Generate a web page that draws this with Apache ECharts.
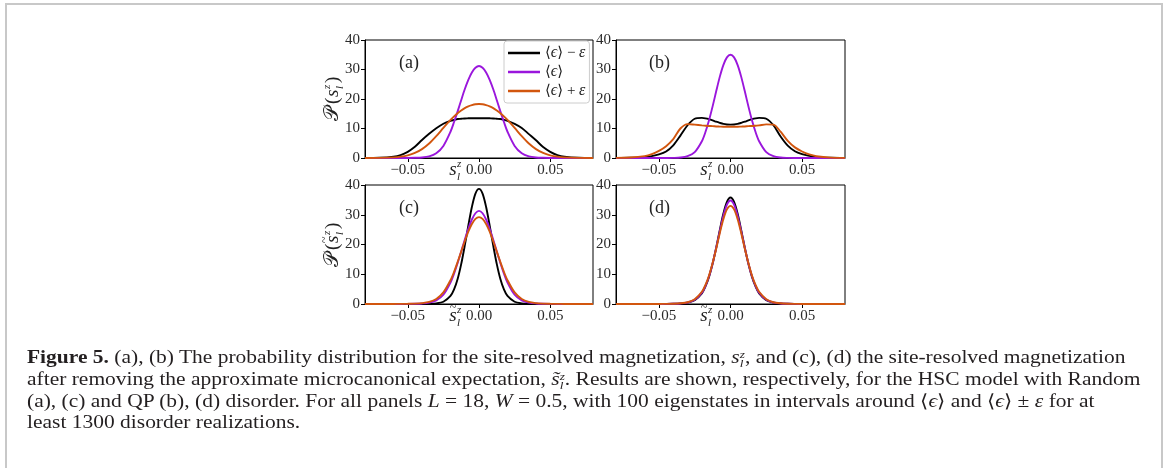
<!DOCTYPE html>
<html>
<head>
<meta charset="utf-8">
<script src="https://cdn.jsdelivr.net/npm/echarts@6/dist/echarts.min.js"></script>
<style>
  html, body { margin:0; padding:0; background:#fff; }
  #wrap { position:relative; width:1165px; height:468px; overflow:hidden; background:#fff; }
  #frame { position:absolute; left:5px; top:3px; width:1158px; height:500px; box-sizing:border-box;
           border:2px solid #c8c8c8; border-bottom:none; }
  #chart { position:absolute; left:0; top:0; width:1165px; height:468px; }
  #caption { position:absolute; left:27px; top:347px; font-family:"Liberation Serif", serif; font-size:18.3px;
             color:#231f20; line-height:21px; transform:scaleX(1.175); transform-origin:0 0; }
  #caption div { white-space:nowrap; }
  .ss { display:inline-block; vertical-align:-0.38em; font-size:0.62em; line-height:0.85em; font-style:italic; text-align:left; }
  i { font-style:italic; }
</style>
</head>
<body>
<div id="wrap">
  <div id="frame"></div>
  <div id="chart"></div>
  <div id="caption">
    <div><b>Figure 5.</b> (a), (b) The probability distribution for the site-resolved magnetization, <i>s</i><span class="ss">z<br>l</span>, and (c), (d) the site-resolved magnetization</div>
    <div>after removing the approximate microcanonical expectation, <i>s&#771;</i><span class="ss">z<br>l</span>. Results are shown, respectively, for the HSC model with Random</div>
    <div>(a), (c) and QP (b), (d) disorder. For all panels <i>L</i> = 18, <i>W</i> = 0.5, with 100 eigenstates in intervals around ⟨<i>ϵ</i>⟩ and ⟨<i>ϵ</i>⟩ ± <i>ε</i> for at</div>
    <div>least 1300 disorder realizations.</div>
  </div>
</div>
<script>
// ---- data ----
const X = [-0.08,-0.07,-0.06,-0.055,-0.05,-0.045,-0.04,-0.035,-0.03,-0.025,-0.02,-0.0175,-0.015,-0.0125,-0.01,-0.0075,-0.005,-0.0025,
           0,
           0.0025,0.005,0.0075,0.01,0.0125,0.015,0.0175,0.02,0.025,0.03,0.035,0.04,0.045,0.05,0.055,0.06,0.07,0.08];

const SERIES_NAMES = ['⟨ϵ⟩ − ε', '⟨ϵ⟩', '⟨ϵ⟩ + ε'];
const COLORS = ['#000000', '#9a16dc', '#d2560e'];

// panel (a): Random disorder, s_l^z
const A_BLACK  = [0.02,0.08,0.45,1.0,2.1,3.8,6.1,8.2,10.1,11.6,12.6,12.9,13.2,13.3,13.4,13.45,13.5,13.5,
                  13.5,
                  13.5,13.5,13.45,13.4,13.3,13.2,12.95,12.6,11.6,10.2,8.1,6.0,3.7,2.1,1.0,0.45,0.08,0.02];
const A_PURPLE = [0,0,0,0.01,0.02,0.06,0.17,0.55,1.6,4.1,8.9,12.2,15.8,19.6,23.3,26.5,29.0,30.6,
                  31.2,
                  30.6,29.0,26.5,23.3,19.6,15.8,12.2,8.9,4.1,1.6,0.55,0.17,0.06,0.02,0.01,0,0,0];
const A_ORANGE = [0.01,0.05,0.22,0.45,0.9,1.7,3.0,4.9,7.4,10.2,12.9,14.1,15.2,16.1,16.9,17.5,17.9,18.2,
                  18.3,
                  18.2,17.9,17.5,16.9,16.1,15.2,14.1,12.9,10.2,7.4,4.9,3.0,1.7,0.9,0.45,0.22,0.05,0.01];

// panel (b): QP disorder, s_l^z
const B_BLACK  = [0.01,0.06,0.3,0.65,1.2,2.2,4.3,7.6,11.1,13.3,13.6,13.45,13.15,12.75,12.3,11.9,11.55,11.35,
                  11.3,
                  11.35,11.55,11.9,12.3,12.75,13.15,13.45,13.6,13.3,11.1,7.3,4.2,2.3,1.3,0.7,0.3,0.06,0.01];
const B_PURPLE = [0,0,0,0,0,0.01,0.04,0.15,0.6,2.0,5.7,8.8,12.8,17.5,22.6,27.5,31.5,34.1,
                  35.0,
                  34.1,31.5,27.5,22.6,17.5,12.8,8.8,5.7,2.0,0.6,0.15,0.04,0.01,0,0,0,0,0];
const B_ORANGE = [0.03,0.15,0.65,1.3,2.4,4.0,6.4,10.0,11.5,11.3,11.05,10.95,10.85,10.8,10.7,10.65,10.6,10.6,
                  10.6,
                  10.6,10.6,10.65,10.7,10.8,10.85,10.95,11.05,11.4,11.3,8.9,5.8,3.6,2.2,1.2,0.6,0.12,0.03];

// panel (c): Random disorder, tilde s_l^z
const C_BLACK  = [0,0,0,0,0,0.01,0.03,0.07,0.22,0.75,2.7,4.9,8.4,13.4,19.6,26.3,32.6,37.1,
                  38.7,
                  37.1,32.6,26.3,19.6,13.4,8.4,4.9,2.7,0.75,0.22,0.07,0.03,0.01,0,0,0,0,0];
const C_PURPLE = [0,0.005,0.01,0.02,0.04,0.08,0.18,0.45,1.2,3.1,7.2,10.2,13.8,17.6,21.6,25.3,28.4,30.5,
                  31.3,
                  30.5,28.4,25.3,21.6,17.6,13.8,10.2,7.2,3.1,1.2,0.45,0.18,0.08,0.04,0.02,0.01,0.005,0];
const C_ORANGE = [0.005,0.01,0.02,0.04,0.06,0.13,0.3,0.7,1.7,3.9,8.0,10.8,14.1,17.6,21.1,24.3,26.9,28.6,
                  29.2,
                  28.6,26.9,24.3,21.1,17.6,14.1,10.8,8.0,3.9,1.7,0.7,0.3,0.13,0.06,0.04,0.02,0.01,0.005];

// panel (d): QP disorder, tilde s_l^z
const D_BLACK  = [0,0,0,0.005,0.01,0.03,0.07,0.17,0.45,1.3,3.6,5.9,9.1,13.5,18.9,24.8,30.3,34.3,
                  35.8,
                  34.3,30.3,24.8,18.9,13.5,9.1,5.9,3.6,1.3,0.45,0.17,0.07,0.03,0.01,0.005,0,0,0];
const D_PURPLE = [0,0,0,0.005,0.01,0.03,0.08,0.19,0.5,1.4,3.8,6.1,9.3,13.6,18.8,24.4,29.6,33.4,
                  34.8,
                  33.4,29.6,24.4,18.8,13.6,9.3,6.1,3.8,1.4,0.5,0.19,0.08,0.03,0.01,0.005,0,0,0];
const D_ORANGE = [0,0.005,0.01,0.01,0.02,0.04,0.1,0.24,0.6,1.6,4.1,6.4,9.6,13.8,18.6,23.8,28.5,31.8,
                  33.0,
                  31.8,28.5,23.8,18.6,13.8,9.6,6.4,4.1,1.6,0.6,0.24,0.1,0.04,0.02,0.01,0.01,0.005,0];

const X_TICKS = [-0.05, 0, 0.05];
const Y_MIN = 0, Y_MAX = 40, Y_STEP = 10;
const X_MIN = -0.08, X_MAX = 0.08;
const PANEL_LABELS = ['(a)', '(b)', '(c)', '(d)'];

const PANELS = [
  [A_BLACK, A_PURPLE, A_ORANGE],
  [B_BLACK, B_PURPLE, B_ORANGE],
  [C_BLACK, C_PURPLE, C_ORANGE],
  [D_BLACK, D_PURPLE, D_ORANGE]
];

// ---- layout ----
const GRIDS = [
  {left:365, top:40,  width:228, height:118},
  {left:616, top:40,  width:229, height:118},
  {left:365, top:185, width:228, height:119},
  {left:616, top:185, width:229, height:119}
];
const SERIF = '"Liberation Serif", "DejaVu Serif", serif';
const TICK_COLOR = '#2a2a2a';

function fmtX(v) {
  if (Math.abs(v) < 1e-9) return '0.00';
  return (v < 0 ? '\u2212' : '') + Math.abs(v).toFixed(2);
}

const chart = echarts.init(document.getElementById('chart'), null, {renderer:'canvas'});

const grid = GRIDS.map(g => Object.assign({show:true, borderColor:'#000', borderWidth:1, backgroundColor:'transparent'}, g));
const xAxis = GRIDS.map((g, i) => ({
  gridIndex:i, type:'value', min:X_MIN, max:X_MAX,
  axisLine:{show:true, onZero:false, lineStyle:{color:'#000', width:1}},
  axisTick:{show:true, customValues:X_TICKS, length:4, lineStyle:{color:'#000', width:1}},
  axisLabel:{show:true, customValues:X_TICKS, formatter:fmtX, fontFamily:SERIF, fontSize:15, color:TICK_COLOR, margin:5},
  splitLine:{show:false}
}));
const yAxis = GRIDS.map((g, i) => ({
  gridIndex:i, type:'value', min:Y_MIN, max:Y_MAX, interval:Y_STEP,
  axisLine:{show:true, onZero:false, lineStyle:{color:'#000', width:1}},
  axisTick:{show:true, length:4, lineStyle:{color:'#000', width:1}},
  axisLabel:{show:true, fontFamily:SERIF, fontSize:15, color:TICK_COLOR, margin:5},
  splitLine:{show:false}
}));

const series = [];
PANELS.forEach((p, gi) => {
  p.forEach((ys, si) => {
    series.push({
      type:'line', name:SERIES_NAMES[si], xAxisIndex:gi, yAxisIndex:gi,
      data: X.map((x, k) => [x, ys[k]]),
      smooth:0.3, symbol:'none', showSymbol:false, silent:true,
      lineStyle:{color:COLORS[si], width:1.9}, itemStyle:{color:COLORS[si]},
      z: 2 + si
    });
  });
});

// ---- text graphics ----
function txt(x, y, s, size, opts) {
  return {type:'text', x, y, style:Object.assign({text:s, fontFamily:SERIF, fontSize:size, fill:'#222',
        textAlign:'left', textVerticalAlign:'middle'}, opts || {})};
}
function xLabel(cx, cy, tilde) {
  const ch = [
    {type:'text', x:0, y:0, style:{text:'s', fontFamily:SERIF, fontStyle:'italic', fontSize:19, fill:'#222', textAlign:'center', textVerticalAlign:'middle'}},
    {type:'text', x:4, y:-6, style:{text:'z', fontFamily:SERIF, fontStyle:'italic', fontSize:11, fill:'#222', textAlign:'left', textVerticalAlign:'middle'}},
    {type:'text', x:4, y:7, style:{text:'l', fontFamily:SERIF, fontStyle:'italic', fontSize:11, fill:'#222', textAlign:'left', textVerticalAlign:'middle'}}
  ];
  if (tilde) ch.push({type:'text', x:0, y:-8, style:{text:'~', fontFamily:SERIF, fontSize:12, fill:'#222', textAlign:'center', textVerticalAlign:'middle'}});
  return {type:'group', x:cx, y:cy, children:ch};
}
function yLabel(cx, cy, tilde) {
  const f = {fontFamily:SERIF, fill:'#222', textVerticalAlign:'middle', textAlign:'left'};
  const ch = [
    {type:'text', x:-27, y:0, style:Object.assign({text:'𝒫', fontSize:20}, f)},
    {type:'text', x:-10, y:0, style:Object.assign({text:'(', fontSize:19}, f)},
    {type:'text', x:-3, y:0, style:Object.assign({text:'s', fontSize:19, fontStyle:'italic'}, f)},
    {type:'text', x:5, y:-6, style:Object.assign({text:'z', fontSize:11, fontStyle:'italic'}, f)},
    {type:'text', x:5, y:7, style:Object.assign({text:'l', fontSize:11, fontStyle:'italic'}, f)},
    {type:'text', x:11, y:0, style:Object.assign({text:')', fontSize:19}, f)}
  ];
  if (tilde) ch.push({type:'text', x:-3, y:-8, style:Object.assign({text:'~', fontSize:12}, f)});
  return {type:'group', x:cx, y:cy, rotation:Math.PI/2, children:ch};
}

const graphic = [
  txt(399, 63, PANEL_LABELS[0], 18),
  txt(649, 63, PANEL_LABELS[1], 18),
  txt(399, 208, PANEL_LABELS[2], 18),
  txt(649, 208, PANEL_LABELS[3], 18),
  xLabel(453, 170, false),
  xLabel(704, 170, false),
  xLabel(453, 316, true),
  xLabel(704, 316, true),
  yLabel(333, 94, false),
  yLabel(333, 240, true)
];

// legend names rendered with italic math letters
function legendFmt(name) {
  return name.replace(/([ϵε])/g, '{i|$1}');
}

chart.setOption({
  animation:false,
  backgroundColor:'transparent',
  grid, xAxis, yAxis, series, graphic,
  legend:{
    show:true, left:504, top:41, orient:'vertical', icon:'rect', itemWidth:32, itemHeight:2.5, itemGap:3,
    padding:[4,4,4,4], borderColor:'#cccccc', borderWidth:1, borderRadius:3, backgroundColor:'rgba(255,255,255,0.85)',
    selectedMode:false,
    formatter:legendFmt,
    textStyle:{fontFamily:SERIF, fontSize:15, color:'#222', lineHeight:16,
      rich:{i:{fontFamily:SERIF, fontStyle:'italic', fontSize:16, color:'#222', lineHeight:16}}},
    data:SERIES_NAMES
  }
});
</script>
</body>
</html>
